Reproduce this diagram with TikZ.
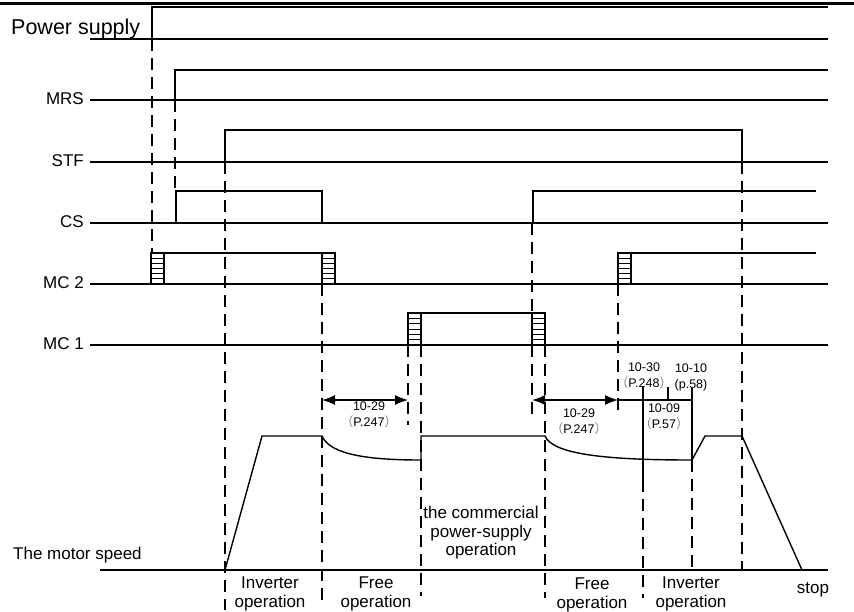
\documentclass[tikz,border=0pt]{standalone}
\usepackage{fontspec}
\setmainfont{Liberation Sans}
\newfontfamily\cjk{Noto Sans CJK SC}
\usetikzlibrary{arrows.meta}

% ladder edge of a contactor: left x, top y, bottom y
\newcommand{\ladder}[3]{%
  \draw[sig] (#1,#3) rectangle ({#1+13},#2);
  \foreach \k in {1,...,5}
    \draw[rung] (#1,{#2+\k*(#3-#2)/6}) -- ({#1+13},{#2+\k*(#3-#2)/6});
}
% full-width bracket
\newcommand{\fwp}[1]{{\cjk\color{gray}#1}}

\begin{document}
\begin{tikzpicture}[>={Latex[length=13pt,width=10pt]},x=1pt,y=-1pt,
  sig/.style={line width=1.4pt},
  rung/.style={line width=0.9pt},
  guide/.style={line width=1.1pt,dash pattern=on 12pt off 7pt},
  sigtag/.style={font=\fontsize{17}{19}\selectfont,inner sep=0pt},
  note/.style={font=\fontsize{12.5}{16}\selectfont,inner sep=0pt,align=center,anchor=north},
  phase/.style={font=\fontsize{17}{18.5}\selectfont,inner sep=0pt,align=center,anchor=north}]
  \useasboundingbox (0,0) rectangle (854,611);
  \draw[line width=3pt] (0,3.5) -- (854,3.5);
  % signal names
  \node[font=\fontsize{21.5}{24}\selectfont,inner sep=0pt,anchor=base west] (pwr) at (11,34) {Power supply};
  \foreach \y/\t/\n in {100/MRS/mrs,162/STF/stf,223/CS/cs,284/MC 2/mctwo,345/MC 1/mcone}
    \node[sigtag,anchor=base east] (\n) at ({84},{\y+4}) {\t};
  \node[sigtag,anchor=base west] (speed) at (13,559) {The motor speed};
  % base lines
  \foreach \y in {39,100,162,223,284,345}
    \draw[sig] (90,\y) -- (828,\y);
  \draw[sig] (100,570) -- (828,570);
  % high levels
  \draw[sig] (152,39) -- (152,7) -- (828,7);
  \draw[sig] (175,100) -- (175,70) -- (828,70);
  \draw[sig] (225,162) -- (225,130) -- (742,130) -- (742,162);
  \draw[sig] (176,223) -- (176,191) -- (322,191) -- (322,223);
  \draw[sig] (533,223) -- (533,191) -- (816,191);
  \ladder{151}{253}{284} \draw[sig] (164,253) -- (322,253); \ladder{322}{253}{284}
  \ladder{618}{253}{284} \draw[sig] (631,253) -- (816,253);
  \ladder{408}{313}{345} \draw[sig] (421,313) -- (532,313); \ladder{532}{313}{345}
  % motor speed
  \draw[sig] (225,570) -- (262,436) -- (322,436)
    .. controls (330,455) and (370,460) .. (421,460) -- (421,436) -- (545,436)
    .. controls (553,455) and (610,460) .. (692,460) -- (705,436) -- (742,436) -- (802,570);
  % guides
  \foreach \x/\a/\b in {152/39/253,175/100/191,225/162/610,322/284/607,408/345/425,
      421/345/596,532/223/313,532/345/414,545/345/598,618/284/415,643/480/598,
      692/460/570,742/162/570}
    \draw[guide] (\x,\a) -- (\x,\b);
  % parameter bars
  \draw[sig] (643,387) -- (643,480);
  \draw[sig] (692,388) -- (692,460);
  \draw[sig] (618,400) -- (692,400);
  \draw[sig] (668,387) -- (668,400);
  \coordinate (fa) at (322,400);
  \coordinate (fb) at (408,400);
  \coordinate (fc) at (532,400);
  \coordinate (fd) at (618,400);
  \draw[sig,<->] (fa) -- (fb);
  \draw[sig,<->] (fc) -- (fd);
  \node[note] (tza) at (369,402) {10-29\\\fwp{（}P.247\fwp{）}};
  \node[note] (tzb) at (579,409) {10-29\\\fwp{（}P.247\fwp{）}};
  \node[note] (tth) at (644,363) {10-30\\\fwp{（}P.248\fwp{）}};
  \node[note] (tte) at (691,364) {10-10\\(p.58)};
  \node[note] (tnn) at (664,404) {10-09\\\fwp{（}P.57\fwp{）}};
  % phases
  \node[phase] (inva) at (270,577) {Inverter\\operation};
  \node[phase] (frea) at (376,577) {Free\\operation};
  \node[phase] (comm) at (481,506) {the commercial\\power-supply\\operation};
  \node[phase] (freb) at (592,578) {Free\\operation};
  \node[phase] (invb) at (691,577) {Inverter\\operation};
  \node[sigtag,anchor=base] (stop) at (813,593) {stop};
\end{tikzpicture}
\end{document}
